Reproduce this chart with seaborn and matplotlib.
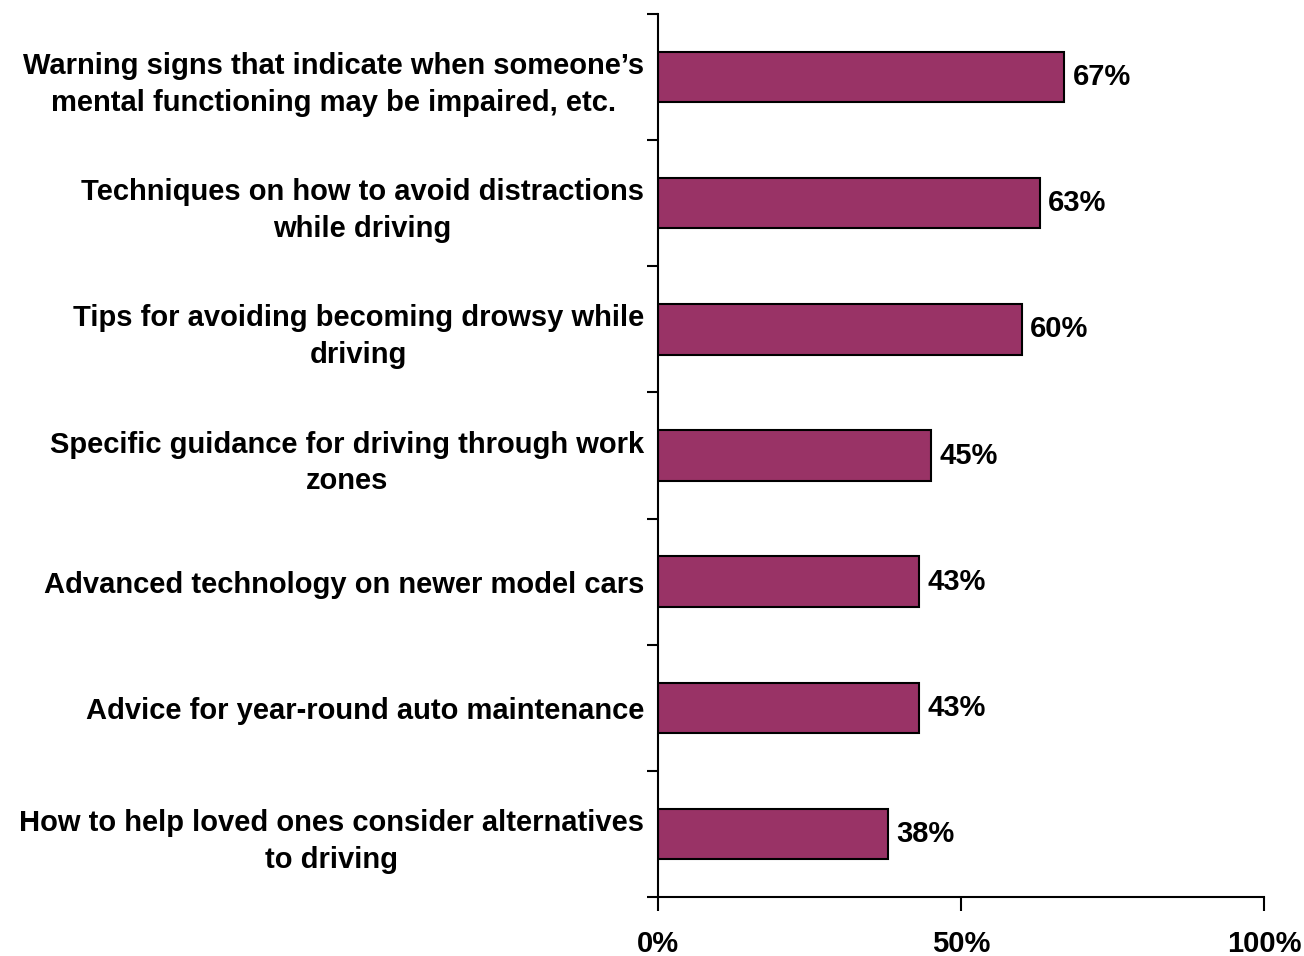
import matplotlib
matplotlib.use("Agg")
import matplotlib.pyplot as plt
import seaborn as sns
import pandas as pd

categories = [
    "Warning signs that indicate when someone\u2019s\nmental functioning may be impaired, etc.",
    "Techniques on how to avoid distractions\nwhile driving",
    "Tips for avoiding becoming drowsy while\ndriving",
    "Specific guidance for driving through work\nzones",
    "Advanced technology on newer model cars",
    "Advice for year-round auto maintenance",
    "How to help loved ones consider alternatives\nto driving",
]
values = [67, 63, 60, 45, 43, 43, 38]
x_ticks = [0, 50, 100]
x_tick_labels = ["0%", "50%", "100%"]

sns.set_theme(style="white")
plt.rcParams["font.family"] = ["Liberation Sans", "DejaVu Sans"]
plt.rcParams["font.weight"] = "bold"
plt.rcParams["text.color"] = "black"
plt.rcParams["xtick.color"] = "black"
plt.rcParams["ytick.color"] = "black"

df = pd.DataFrame({"topic": categories, "pct": values})

fig = plt.figure(figsize=(13.04, 9.56), dpi=100)
ax = fig.add_axes([658 / 1304, 1 - 897 / 956, (1264 - 658) / 1304, (897 - 14) / 956])

sns.barplot(data=df, y="topic", x="pct", orient="h", color="#993366",
            saturation=1, width=0.4, edgecolor="black", linewidth=1.5, ax=ax)

ax.set_xlim(0, 100)
ax.set_ylim(len(categories) - 0.5, -0.5)
ax.set_xlabel("")
ax.set_ylabel("")

for i, v in enumerate(values):
    ax.text(v + 1.4, i, f"{v}%", va="center", ha="left",
            fontsize=21, fontweight="bold", color="black")

# Category labels centered, ticks at slot boundaries
ax.set_yticks(range(len(categories)))
ax.set_yticklabels(categories, fontsize=21, fontweight="bold", color="black",
                   multialignment="center", linespacing=1.4)
ax.tick_params(axis="y", which="major", length=0, pad=10)
ax.set_yticks([i - 0.5 for i in range(len(categories) + 1)], minor=True)
ax.tick_params(axis="y", which="minor", length=8, width=1.5, color="black", left=True)

ax.set_xticks(x_ticks)
ax.set_xticklabels(x_tick_labels, fontsize=21, fontweight="bold", color="black")
ax.tick_params(axis="x", length=10, width=1.5, color="black", bottom=True, pad=14)

for side in ["top", "right"]:
    ax.spines[side].set_visible(False)
for side in ["left", "bottom"]:
    ax.spines[side].set_color("black")
    ax.spines[side].set_linewidth(1.5)

fig.savefig("out.png", dpi=100)
